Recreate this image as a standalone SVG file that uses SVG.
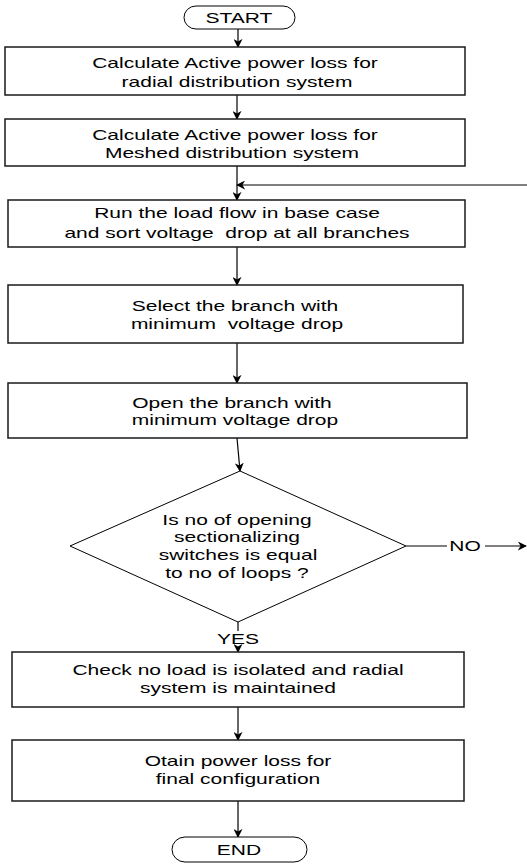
<svg xmlns="http://www.w3.org/2000/svg" width="527" height="866" viewBox="0 0 527 866">
<style>
.box{fill:#fff;stroke:#1a1a1a;stroke-width:1.5}
.dia{fill:#fff;stroke:#000;stroke-width:1}
.term{fill:#fff;stroke:#000;stroke-width:1}
.t{font-family:"Liberation Sans",Arial,sans-serif;font-size:14px;fill:#000;text-anchor:middle}
.c{fill:none;stroke:#000;stroke-width:1.2}
</style>
<defs>
<marker id="ah" viewBox="0 0 10 10" refX="9" refY="5" markerWidth="9" markerHeight="9" markerUnits="userSpaceOnUse" orient="auto">
<path d="M0,0 L10,5 L0,10 L3,5 z" fill="#000"/>
</marker>
</defs>
<g id="connectors">
<path class="c" d="M238,29 L238,47" marker-end="url(#ah)"/>
<path class="c" d="M237,95 L237,119" marker-end="url(#ah)"/>
<path class="c" d="M237,166 L237,200" marker-end="url(#ah)"/>
<path class="c" d="M527,185 L237,185" marker-end="url(#ah)"/>
<path class="c" d="M237,247 L237,285" marker-end="url(#ah)"/>
<path class="c" d="M237,343 L237,383" marker-end="url(#ah)"/>
<path class="c" d="M237,438 L240,471" marker-end="url(#ah)"/>
<path class="c" d="M406,546 L447,546"/>
<path class="c" d="M485,546 L526,546" marker-end="url(#ah)"/>
<path class="c" d="M238,622 L238,631 M238,647 L238,652" marker-end="url(#ah)"/>
<path class="c" d="M238,707 L238,740" marker-end="url(#ah)"/>
<path class="c" d="M238,801 L238,837" marker-end="url(#ah)"/>
<text class="t" transform="translate(465,551) scale(1.5,1)">NO</text>
<text class="t" transform="translate(238,644) scale(1.5,1)">YES</text>
</g>
<g id="start">
<rect class="term" x="184" y="6" width="111" height="23" rx="12" ry="11.5"/>
<text class="t" transform="translate(239,23) scale(1.5,1)">START</text>
</g>
<g id="radial">
<rect class="box" x="5" y="47" width="460" height="48"/>
<text class="t" transform="translate(235,68) scale(1.5,1)">Calculate Active power loss for</text>
<text class="t" transform="translate(237,87) scale(1.5,1)">radial distribution system</text>
</g>
<g id="meshed">
<rect class="box" x="5" y="119" width="460" height="47"/>
<text class="t" transform="translate(235,140) scale(1.5,1)">Calculate Active power loss for</text>
<text class="t" transform="translate(232,158) scale(1.5,1)">Meshed distribution system</text>
</g>
<g id="loadflow">
<rect class="box" x="8" y="200" width="457" height="47"/>
<text class="t" xml:space="preserve" transform="translate(237,218) scale(1.5,1)">Run the load flow in base case</text>
<text class="t" xml:space="preserve" transform="translate(237,238) scale(1.5,1)">and sort voltage  drop at all branches</text>
</g>
<g id="select">
<rect class="box" x="8" y="285" width="455" height="58"/>
<text class="t" transform="translate(235,311) scale(1.5,1)">Select the branch with</text>
<text class="t" xml:space="preserve" transform="translate(237,329) scale(1.5,1)">minimum  voltage drop</text>
</g>
<g id="open">
<rect class="box" x="8" y="383" width="459" height="55"/>
<text class="t" transform="translate(232,408) scale(1.5,1)">Open the branch with</text>
<text class="t" transform="translate(235,425) scale(1.5,1)">minimum voltage drop</text>
</g>
<g id="decision">
<polygon class="dia" points="240,471 406,546 238,622 70,546"/>
<text class="t" transform="translate(237,525) scale(1.5,1)">Is no of opening</text>
<text class="t" transform="translate(237,542) scale(1.5,1)">sectionalizing</text>
<text class="t" transform="translate(238,560) scale(1.5,1)">switches is equal</text>
<text class="t" transform="translate(237,578) scale(1.5,1)">to no of loops ?</text>
</g>
<g id="check">
<rect class="box" x="12" y="652" width="452" height="55"/>
<text class="t" transform="translate(238,675) scale(1.5,1)">Check no load is isolated and radial</text>
<text class="t" transform="translate(238,693) scale(1.5,1)">system is maintained</text>
</g>
<g id="obtain">
<rect class="box" x="12" y="740" width="452" height="61"/>
<text class="t" transform="translate(238,766) scale(1.5,1)">Otain power loss for</text>
<text class="t" transform="translate(238,784) scale(1.5,1)">final configuration</text>
</g>
<g id="end">
<rect class="term" x="172" y="837" width="135" height="25" rx="13" ry="12.5"/>
<text class="t" transform="translate(239,855) scale(1.5,1)">END</text>
</g>
</svg>
